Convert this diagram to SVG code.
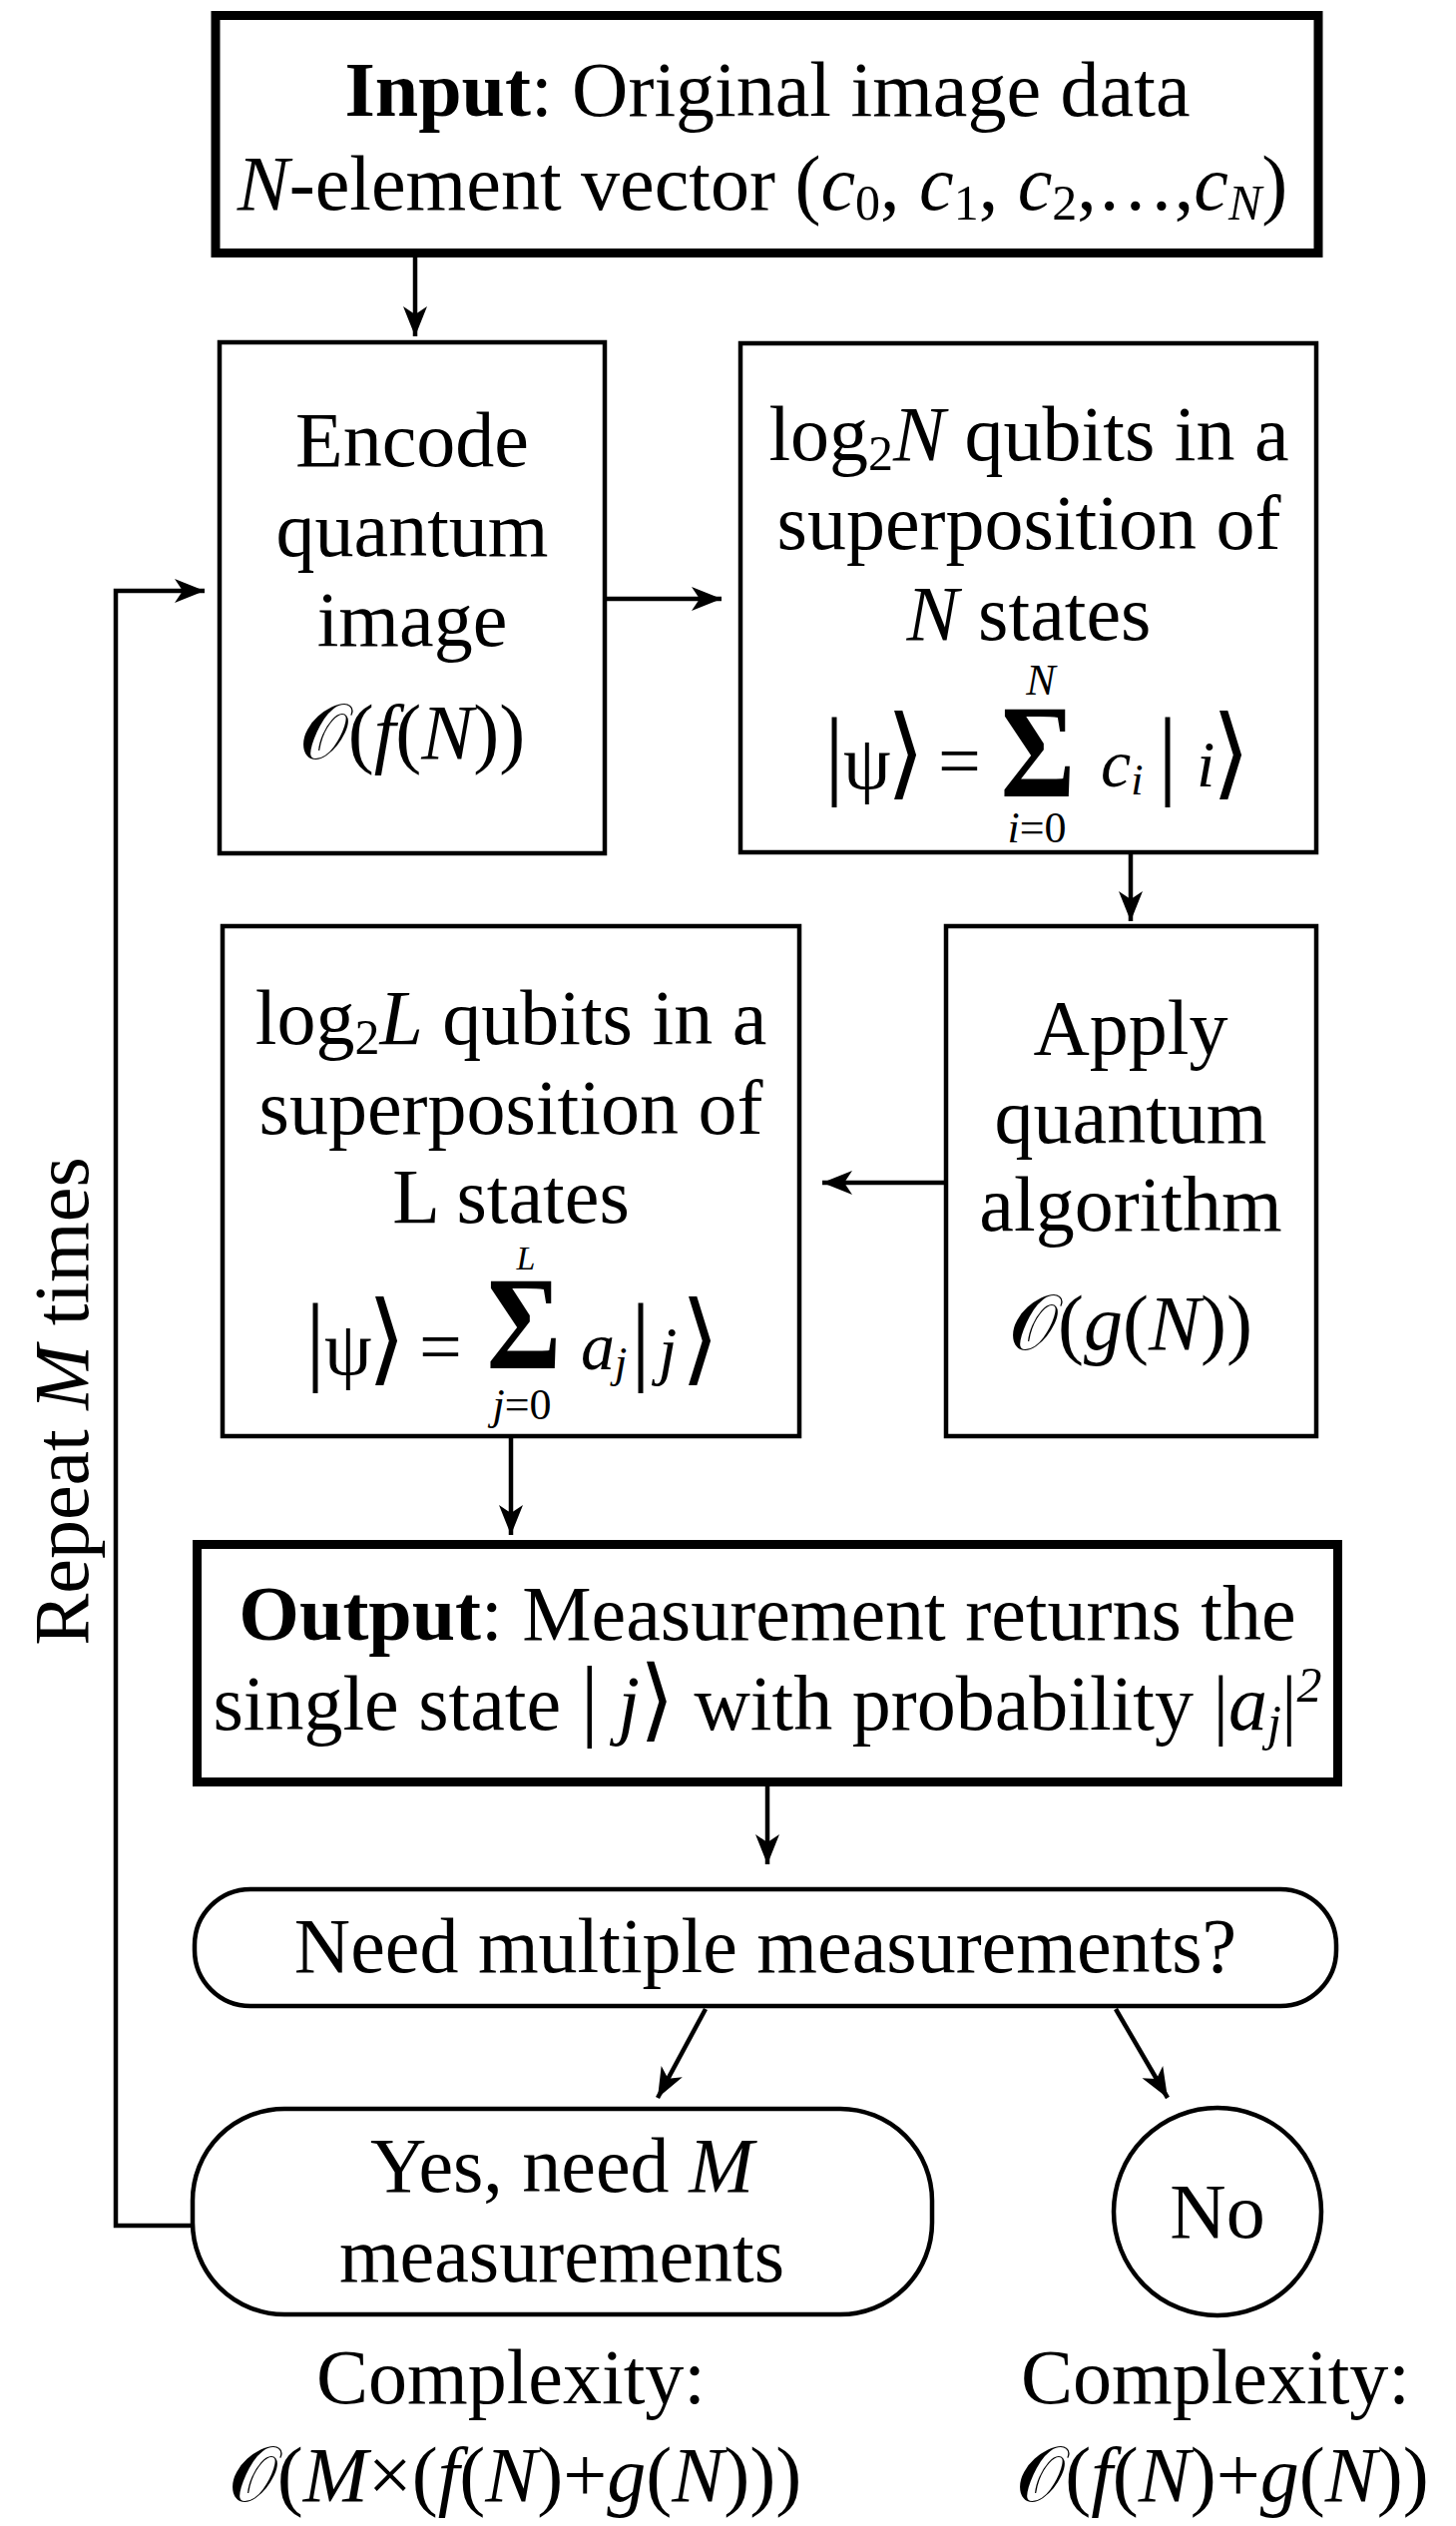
<svg xmlns="http://www.w3.org/2000/svg" width="1459" height="2531" viewBox="0 0 1459 2531">
<defs>
<style>
.t{font-family:"Liberation Serif","Times New Roman","DejaVu Serif","DejaVu Sans",serif;font-size:78px;fill:#000;text-anchor:middle}
.s{text-anchor:start}
.i{font-style:italic}
.b{font-weight:bold}
.sub{font-size:50px}
.br{font-size:100px}
.box{fill:#fff;stroke:#000;stroke-width:4.5}
.thick{fill:#fff;stroke:#000;stroke-width:9}
.c{fill:none;stroke:#000;stroke-width:4.5}
</style>
<marker id="ah" markerUnits="userSpaceOnUse" markerWidth="32" markerHeight="28" refX="30" refY="14" orient="auto">
<path d="M0,2 L30,14 L0,26 L8,14 Z" fill="#000"/>
</marker>
</defs>
<rect width="1459" height="2531" fill="#fff"/>

<g id="connectors">
<line class="c" x1="416" y1="258" x2="416" y2="337" marker-end="url(#ah)"/>
<line class="c" x1="608" y1="600" x2="723" y2="600" marker-end="url(#ah)"/>
<line class="c" x1="1133" y1="856" x2="1133" y2="923" marker-end="url(#ah)"/>
<line class="c" x1="946" y1="1185" x2="824" y2="1185" marker-end="url(#ah)"/>
<line class="c" x1="512" y1="1441" x2="512" y2="1538" marker-end="url(#ah)"/>
<line class="c" x1="769" y1="1790" x2="769" y2="1868" marker-end="url(#ah)"/>
<line class="c" x1="707" y1="2013" x2="659" y2="2102" marker-end="url(#ah)"/>
<line class="c" x1="1118" y1="2013" x2="1170" y2="2102" marker-end="url(#ah)"/>
<path class="c" d="M191,2230 L116,2230 L116,592 L205,592" marker-end="url(#ah)"/>
</g>

<g id="repeat-label">
<text class="t" transform="translate(88,1404) rotate(-90)">Repeat <tspan class="i">M</tspan> times</text>
</g>

<g id="input">
<rect class="thick" x="216" y="15.5" width="1105" height="238"/>
<text class="t" x="769" y="116"><tspan class="b">Input</tspan>: Original image data</text>
<text class="t" x="764" y="210"><tspan class="i">N</tspan>-element vector (<tspan class="i">c</tspan><tspan class="sub" dy="10">0</tspan><tspan dy="-10">, </tspan><tspan class="i">c</tspan><tspan class="sub" dy="10">1</tspan><tspan dy="-10">, </tspan><tspan class="i">c</tspan><tspan class="sub" dy="10">2</tspan><tspan dy="-10">,…,</tspan><tspan class="i">c</tspan><tspan class="sub i" dy="10">N</tspan><tspan dy="-10">)</tspan></text>
</g>

<g id="encode">
<rect class="box" x="220" y="343" width="386" height="512"/>
<text class="t" x="413" y="467">Encode</text>
<text class="t" x="413" y="557">quantum</text>
<text class="t" x="413" y="647">image</text>
<text class="t" x="413" y="760">𝒪(<tspan class="i">f</tspan>(<tspan class="i">N</tspan>))</text>
</g>

<g id="superposition-n">
<rect class="box" x="742" y="344" width="577" height="510"/>
<text class="t" x="1031" y="461">log<tspan class="sub" dy="10">2</tspan><tspan class="i" dy="-10">N</tspan> qubits in a</text>
<text class="t" x="1031" y="550">superposition of</text>
<text class="t" x="1031" y="641"><tspan class="i">N</tspan> states</text>
<text class="t s" y="788" style="font-size:76px"><tspan x="826" class="br">|</tspan><tspan x="845" dy="2">ψ</tspan><tspan x="888" dy="-2" class="br">⟩</tspan><tspan x="940">=</tspan><tspan x="1160" class="br">|</tspan><tspan x="1199" class="i" style="font-size:66px">i</tspan><tspan x="1214" class="br">⟩</tspan></text>
<text class="t b" transform="translate(1040,798) scale(0.85,1)" style="font-size:134px">Σ</text>
<text class="t i" x="1043" y="696" style="font-size:44px">N</text>
<text class="t" x="1039" y="844" style="font-size:44px"><tspan class="i">i</tspan>=0</text>
<text class="t s" x="1103" y="788" style="font-size:68px"><tspan class="i">c</tspan><tspan class="i" style="font-size:44px" dy="8">i</tspan></text>
</g>

<g id="apply">
<rect class="box" x="948" y="928" width="371" height="511"/>
<text class="t" x="1133" y="1056">Apply</text>
<text class="t" x="1133" y="1145">quantum</text>
<text class="t" x="1133" y="1233">algorithm</text>
<text class="t" x="1133" y="1352">𝒪(<tspan class="i">g</tspan>(<tspan class="i">N</tspan>))</text>
</g>

<g id="superposition-l">
<rect class="box" x="223" y="928" width="578" height="511"/>
<text class="t" x="512" y="1046">log<tspan class="sub" dy="10">2</tspan><tspan class="i" dy="-10">L</tspan> qubits in a</text>
<text class="t" x="512" y="1136">superposition of</text>
<text class="t" x="512" y="1225">L states</text>
<text class="t s" y="1375" style="font-size:76px"><tspan x="306" class="br">|</tspan><tspan x="325" dy="2">ψ</tspan><tspan x="368" dy="-2" class="br">⟩</tspan><tspan x="420">=</tspan><tspan x="632" class="br">|</tspan><tspan x="660" class="i" style="font-size:66px">j</tspan><tspan x="682" class="br">⟩</tspan></text>
<text class="t b" transform="translate(525,1371) scale(0.85,1)" style="font-size:134px">Σ</text>
<text class="t i" x="527" y="1272" style="font-size:34px">L</text>
<text class="t" x="523" y="1422" style="font-size:44px"><tspan class="i">j</tspan>=0</text>
<text class="t s" x="582" y="1372" style="font-size:68px"><tspan class="i">a</tspan><tspan class="i" style="font-size:44px" dy="8">j</tspan></text>
</g>

<g id="output">
<rect class="thick" x="197.5" y="1547.5" width="1143" height="238"/>
<text class="t" x="769" y="1643"><tspan class="b">Output</tspan>: Measurement returns the</text>
<text class="t" x="769" y="1733">single state <tspan style="font-size:90px">|</tspan> <tspan class="i">j</tspan><tspan style="font-size:90px">⟩</tspan> with probability |<tspan class="i">a</tspan><tspan class="sub i" dy="10">j</tspan><tspan dy="-10">|</tspan><tspan class="sub i" dy="-28">2</tspan></text>
</g>

<g id="need">
<rect class="box" x="195" y="1893" width="1144" height="117" rx="56" ry="56"/>
<text class="t" x="767" y="1976">Need multiple measurements?</text>
</g>

<g id="yes">
<rect class="box" x="193" y="2113" width="741" height="206" rx="92" ry="92"/>
<text class="t" x="563" y="2196">Yes, need <tspan class="i">M</tspan></text>
<text class="t" x="563" y="2286">measurements</text>
</g>

<g id="no">
<circle class="box" cx="1220" cy="2216" r="104"/>
<text class="t" x="1220" y="2242">No</text>
</g>

<g id="complexity-yes">
<text class="t" x="512" y="2408">Complexity:</text>
<text class="t" x="516" y="2506">𝒪(<tspan class="i">M</tspan>×(<tspan class="i">f</tspan>(<tspan class="i">N</tspan>)+<tspan class="i">g</tspan>(<tspan class="i">N</tspan>)))</text>
</g>

<g id="complexity-no">
<text class="t" x="1218" y="2408">Complexity:</text>
<text class="t" x="1225" y="2506">𝒪(<tspan class="i">f</tspan>(<tspan class="i">N</tspan>)+<tspan class="i">g</tspan>(<tspan class="i">N</tspan>))</text>
</g>
</svg>
